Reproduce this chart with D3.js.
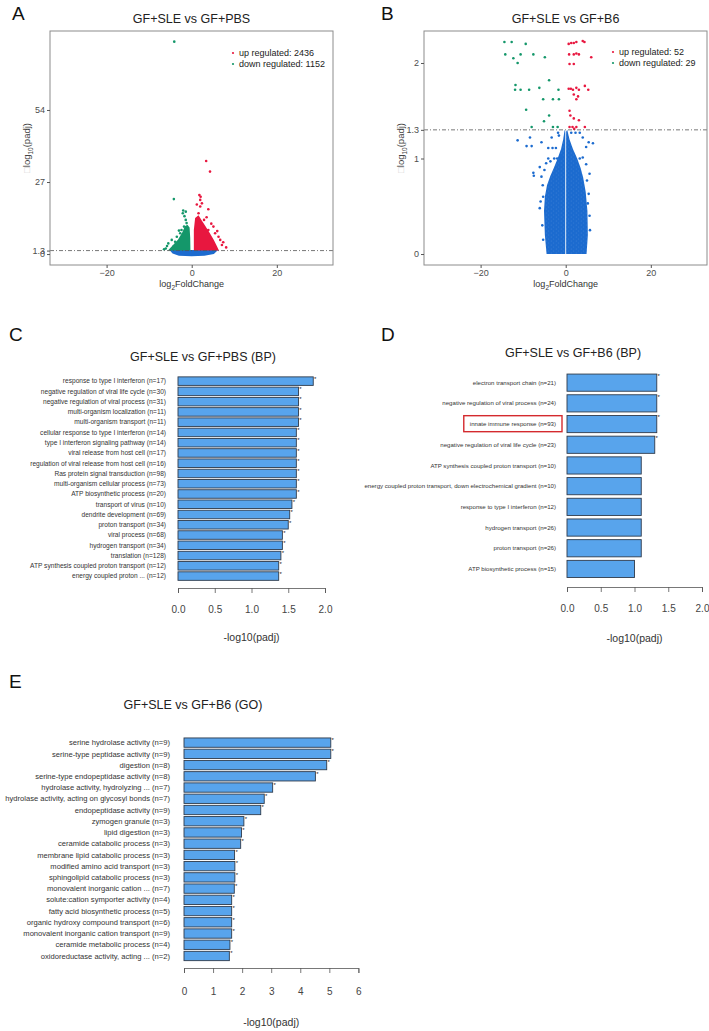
<!DOCTYPE html>
<html>
<head>
<meta charset="utf-8">
<script src="https://cdn.jsdelivr.net/npm/d3@7"></script>
<style>
  body { margin: 0; background: #fff; }
  svg { display: block; font-family: "Liberation Sans", Arial, sans-serif; }
</style>
</head>
<body>
<svg id="fig" width="709" height="1031"></svg>
<script>
/**
 * data
 */

// volcano plots (log2FoldChange, -log10(padj))
var volcanoXTicks = [-20, 0, 20];
var aYTicks = [0, 1.3, 27, 54];
var bYTicks = [0, 1, 1.3, 2];

var aLegend = ["up regulated: 2436", "down regulated: 1152"];
var bLegend = ["up regulated: 52", "down regulated: 29"];

// dense parts of the clouds, as outlines
var aBaseCloud = [[-5.2, 1.5], [-4.5, 0.2], [-3, -0.6], [0, -0.8], [3, -0.6], [5.2, 0], [6.2, 1.5]];
var aDownCloud = [[-5.6, 1.3], [-4.6, 3.0], [-3.2, 5.5], [-2.2, 8.2], [-1.6, 10.4], [-1.0, 11.0], [-0.5, 10.0], [-0.35, 6.0], [-0.3, 1.3]];
var aUpCloud = [[0.5, 1.3], [0.5, 9], [0.8, 13.5], [1.6, 14.5], [2.4, 12.5], [3.2, 10.5], [4.2, 8], [5.2, 5.3], [5.9, 3], [6.4, 1.3]];

var aDownPts = [[-4.1, 79.6], [-4.2, 20.6], [-2.0, 16.3], [-1.4, 15.9], [-2.1, 15.3], [-1.7, 14.2], [-6.1, 2.1],
  [-5.5, 4.0], [-4.7, 5.3], [-3.5, 6.5], [-2.7, 7.8], [-2.4, 9.0], [-1.8, 10.3], [-1.4, 12.8], [-4.3, 2.8],
  [-5.8, 3.0], [-3.9, 4.6], [-3.0, 8.8], [-1.2, 11.6], [-6.5, 1.8]];
var aUpPts = [[3.4, 34.9], [4.3, 30.9], [1.8, 22.1], [2.1, 21.5], [2.0, 20.3], [2.4, 19.0], [2.0, 17.8], [3.9, 16.8],
  [1.6, 15.3], [2.9, 12.8], [5.1, 10.3], [3.9, 9.0], [5.5, 7.8], [6.3, 6.5], [6.7, 5.3], [7.1, 3.4], [8.1, 2.5],
  [4.6, 11.4], [3.5, 13.8], [1.2, 18.6], [6.0, 8.6], [7.4, 4.4]];

var bCloudLeft = [[-0.1, 0], [-4.5, 0], [-4.9, 0.2], [-5.1, 0.45], [-4.9, 0.6], [-4.4, 0.72], [-3.6, 0.82],
  [-2.8, 0.9], [-1.9, 1.0], [-1.1, 1.1], [-0.6, 1.2], [-0.25, 1.3], [-0.1, 1.28]];
var bCloudRight = [[0.1, 0], [0.1, 1.28], [0.35, 1.3], [0.9, 1.2], [1.7, 1.1], [2.7, 1.0], [3.5, 0.9],
  [4.1, 0.8], [4.7, 0.65], [5.1, 0.45], [5.2, 0.2], [4.9, 0]];

var bDownPts = [[-14.4, 2.22], [-12.7, 2.22], [-9.4, 2.20], [-14.2, 2.09], [-10.6, 2.09], [-12.3, 2.05], [-11.3, 2.00],
  [-7.6, 2.09], [-4.9, 2.06], [-11.8, 1.77], [-11.9, 1.72], [-10.6, 1.72], [-8.6, 1.72], [-6.2, 1.74], [-3.9, 1.82],
  [-1.7, 1.72], [-5.3, 1.62], [-3.0, 1.62], [-1.6, 1.62], [-9.3, 1.51], [-3.9, 1.45], [-8.0, 1.33], [-5.1, 1.39],
  [-3.0, 1.33], [-1.9, 1.33]];
var bUpPts = [[0.7, 2.20], [1.3, 2.21], [1.9, 2.21], [2.5, 2.22], [4.0, 2.23], [4.4, 2.22], [0.8, 2.09], [1.9, 2.09],
  [2.5, 2.10], [3.1, 2.09], [0.9, 1.99], [1.9, 1.99], [6.0, 2.06], [0.7, 1.73], [1.2, 1.73], [1.7, 1.72], [2.5, 1.74],
  [3.1, 1.72], [4.5, 1.76], [5.3, 1.72], [1.9, 1.67], [2.9, 1.65], [2.5, 1.62], [0.9, 1.50], [1.1, 1.45], [1.9, 1.42],
  [3.1, 1.40], [0.9, 1.33], [1.6, 1.33], [2.5, 1.33], [4.5, 1.33], [2.0, 1.31]];
var bNsPts = [[-11.3, 1.19], [-8.4, 1.22], [-9.2, 1.13], [-8.0, 1.13], [-5.7, 1.17], [-4.1, 1.11], [-3.1, 1.11],
  [-2.3, 1.11], [-3.3, 1.22], [-1.8, 1.27], [-1.6, 1.24], [-2.7, 1.00], [-4.1, 1.00], [-2.0, 1.00], [-1.0, 1.01],
  [1.3, 1.27], [2.3, 1.27], [3.3, 1.27], [4.0, 1.22], [5.4, 1.17], [6.4, 1.16], [4.8, 1.12], [3.3, 1.00], [4.0, 1.01],
  [4.8, 0.94], [-7.6, 0.85], [-7.5, 0.82], [-6.1, 0.91], [-5.7, 0.81], [-5.4, 0.72], [-5.9, 0.55], [-6.1, 0.48],
  [-5.3, 0.60], [5.6, 0.84], [5.0, 0.77], [5.4, 0.63], [5.2, 0.53], [-5.0, 0.88], [-4.6, 0.95], [-3.6, 0.97],
  [5.6, 0.40], [-5.5, 0.30], [5.7, 0.25], [-5.3, 0.15]];

// enrichment bar charts (-log10(padj))
var cTerms = ["response to type I interferon", "negative regulation of viral life cycle", "negative regulation of viral process",
  "multi-organism localization", "multi-organism transport", "cellular response to type I interferon",
  "type I interferon signaling pathway", "viral release from host cell", "regulation of viral release from host cell",
  "Ras protein signal transduction", "multi-organism cellular process", "ATP biosynthetic process", "transport of virus",
  "dendrite development", "proton transport", "viral process", "hydrogen transport", "translation",
  "ATP synthesis coupled proton transport", "energy coupled proton ..."];
var cCounts = [17, 30, 31, 11, 11, 14, 14, 17, 16, 98, 73, 20, 10, 69, 34, 68, 34, 128, 12, 12];
var cValues = [1.84, 1.64, 1.64, 1.64, 1.64, 1.61, 1.61, 1.61, 1.61, 1.61, 1.61, 1.61, 1.55, 1.52, 1.50, 1.42, 1.42, 1.40, 1.37, 1.37];
var cStars = [1, 1, 1, 1, 1, 1, 1, 1, 1, 1, 1, 1, 1, 1, 1, 1, 1, 1, 1, 1];
var cTicks = [0, 0.5, 1, 1.5, 2];

var dTerms = ["electron transport chain", "negative regulation of viral process", "innate immune response",
  "negative regulation of viral life cycle", "ATP synthesis coupled proton transport",
  "energy coupled proton transport, down electrochemical gradient", "response to type I interferon",
  "hydrogen transport", "proton transport", "ATP biosynthetic process"];
var dCounts = [21, 24, 93, 23, 10, 10, 12, 26, 26, 15];
var dValues = [1.33, 1.33, 1.33, 1.30, 1.10, 1.10, 1.10, 1.10, 1.10, 1.00];
var dStars = [1, 1, 1, 1, 0, 0, 0, 0, 0, 0];
var dTicks = [0, 0.5, 1, 1.5, 2];
var dHighlight = "innate immune response";

var eTerms = ["serine hydrolase activity", "serine-type peptidase activity", "digestion", "serine-type endopeptidase activity",
  "hydrolase activity, hydrolyzing ...", "hydrolase activity, acting on glycosyl bonds", "endopeptidase activity",
  "zymogen granule", "lipid digestion", "ceramide catabolic process", "membrane lipid catabolic process",
  "modified amino acid transport", "sphingolipid catabolic process", "monovalent inorganic cation ...",
  "solute:cation symporter activity", "fatty acid biosynthetic process", "organic hydroxy compound transport",
  "monovalent inorganic cation transport", "ceramide metabolic process", "oxidoreductase activity, acting ..."];
var eCounts = [9, 9, 8, 8, 7, 7, 9, 3, 3, 3, 3, 3, 3, 7, 4, 5, 6, 9, 4, 2];
var eValues = [5.05, 5.05, 4.91, 4.52, 3.05, 2.76, 2.64, 2.06, 1.98, 1.95, 1.74, 1.75, 1.75, 1.73, 1.64, 1.64, 1.64, 1.64, 1.58, 1.56];
var eStars = [1, 1, 1, 1, 1, 1, 1, 1, 1, 1, 1, 1, 1, 1, 1, 1, 1, 1, 1, 1];
var eTicks = [0, 1, 2, 3, 4, 5, 6];

/**
 * colours
 */
var RED = "#e8173f", GREEN = "#14976a", BLUE = "#1c6bcf";
var BAR_FILL = "#58a4ec", BAR_STROKE = "#2f3b4c";

var svg = d3.select("#fig");

// lightly speckled fill for the dense blue cloud
var speck = svg.append("defs").append("pattern")
    .attr("id", "speck").attr("width", 5).attr("height", 4)
    .attr("patternUnits", "userSpaceOnUse");
speck.append("rect").attr("width", 5).attr("height", 4).attr("fill", BLUE);
speck.append("circle").attr("cx", 1.2).attr("cy", 1).attr("r", 0.4).attr("fill", "#fff").attr("opacity", 0.25);
speck.append("circle").attr("cx", 3.7).attr("cy", 3).attr("r", 0.4).attr("fill", "#fff").attr("opacity", 0.2);

/**
 * panel letters
 */
[["A", 12, 20], ["B", 381, 20], ["C", 9, 341], ["D", 381, 341], ["E", 9, 688]].forEach(function(l) {
    svg.append("text").attr("x", l[1]).attr("y", l[2])
        .attr("font-size", 19).attr("fill", "#111").text(l[0]);
});

/**
 * volcano plot
 */
function volcano(o) {
    var g = svg.append("g");
    var x = d3.scaleLinear().domain([-33.3, 33.2]).range([o.left, o.right]);
    var y = d3.scaleLinear().domain(o.yDomain).range([o.bottom, o.top]);

    g.append("clipPath").attr("id", "clip" + o.id)
        .append("rect")
        .attr("x", o.left).attr("y", o.top)
        .attr("width", o.right - o.left).attr("height", o.bottom - o.top);

    var plot = g.append("g").attr("clip-path", "url(#clip" + o.id + ")");
    var line = d3.line().x(d => x(d[0])).y(d => y(d[1]));

    o.clouds.forEach(function(c) {
        plot.append("path").attr("d", line(c.pts) + "Z").attr("fill", c.color);
    });
    o.points.forEach(function(s) {
        plot.append("g").selectAll("circle")
            .data(s.pts)
            .join("circle")
            .attr("cx", d => x(d[0]))
            .attr("cy", d => y(d[1]))
            .attr("r", 1.3)
            .attr("fill", s.color);
    });

    // significance threshold
    plot.append("line")
        .attr("x1", o.left).attr("x2", o.right)
        .attr("y1", y(1.3)).attr("y2", y(1.3))
        .attr("stroke", "#555").attr("stroke-width", 0.8)
        .attr("stroke-dasharray", "4,2,1,2");

    g.append("rect")
        .attr("x", o.left).attr("y", o.top)
        .attr("width", o.right - o.left).attr("height", o.bottom - o.top)
        .attr("fill", "none").attr("stroke", "#8c8c8c").attr("stroke-width", 1);

    var xa = g.append("g")
        .attr("transform", "translate(0," + o.bottom + ")")
        .call(d3.axisBottom(x).tickValues(volcanoXTicks).tickSize(3).tickSizeOuter(0).tickPadding(2));
    xa.select(".domain").remove();
    xa.selectAll("line").attr("stroke", "#555");
    xa.selectAll("text").attr("font-size", 9).attr("fill", "#4d4d4d").attr("font-family", null);

    var ya = g.append("g")
        .attr("transform", "translate(" + o.left + ",0)")
        .call(d3.axisLeft(y).tickValues(o.yTicks).tickFormat(d3.format("")).tickSize(3).tickSizeOuter(0).tickPadding(2));
    ya.select(".domain").remove();
    ya.selectAll("line").attr("stroke", "#555");
    ya.selectAll("text").attr("font-size", 9).attr("fill", "#4d4d4d").attr("font-family", null);

    // titles
    g.append("text")
        .attr("x", (o.left + o.right) / 2).attr("y", o.top - 8)
        .attr("text-anchor", "middle").attr("font-size", 12.5).attr("fill", "#222")
        .text(o.title);

    var xl = g.append("text")
        .attr("x", x(0)).attr("y", o.bottom + 22)
        .attr("text-anchor", "middle").attr("font-size", 9).attr("fill", "#333");
    xl.append("tspan").text("log");
    xl.append("tspan").attr("font-size", 6.5).attr("dy", 2.5).text("2");
    xl.append("tspan").attr("dy", -2.5).text("FoldChange");

    var yl = g.append("text")
        .attr("transform", "translate(" + (o.left - 20) + "," + ((o.top + o.bottom) / 2) + ") rotate(-90)")
        .attr("text-anchor", "middle").attr("font-size", 9.5).attr("fill", "#444");
    yl.append("tspan").attr("fill", "#cfcfcf").text("\u25A1");
    yl.append("tspan").text("log");
    yl.append("tspan").attr("font-size", 6.5).attr("dy", 2.5).text("10");
    yl.append("tspan").attr("dy", -2.5).text("(padj)");

    // legend
    var lg = g.append("g");
    o.legend.forEach(function(t, i) {
        lg.append("circle").attr("cx", o.legendX).attr("cy", o.legendY + i * 11)
            .attr("r", 1.1).attr("fill", i === 0 ? RED : GREEN);
        lg.append("text").attr("x", o.legendX + 6).attr("y", o.legendY + i * 11 + 3.3)
            .attr("font-size", 9).attr("fill", "#222").text(t);
    });
}

volcano({
    id: "A", left: 50, right: 333, top: 31, bottom: 265,
    yDomain: [-4.1, 83.6], yTicks: aYTicks,
    title: "GF+SLE vs GF+PBS", legend: aLegend, legendX: 233, legendY: 53,
    clouds: [
        { pts: aBaseCloud, color: BLUE },
        { pts: aDownCloud, color: GREEN },
        { pts: aUpCloud, color: RED }
    ],
    points: [
        { pts: aDownPts, color: GREEN },
        { pts: aUpPts, color: RED }
    ]
});

volcano({
    id: "B", left: 424, right: 707, top: 31, bottom: 265,
    yDomain: [-0.115, 2.335], yTicks: bYTicks,
    title: "GF+SLE vs GF+B6", legend: bLegend, legendX: 613, legendY: 52,
    clouds: [
        { pts: bCloudLeft, color: "url(#speck)" },
        { pts: bCloudRight, color: "url(#speck)" }
    ],
    points: [
        { pts: bNsPts, color: BLUE },
        { pts: bDownPts, color: GREEN },
        { pts: bUpPts, color: RED }
    ]
});

/**
 * enrichment bar chart
 */
function barPanel(o) {
    var g = svg.append("g");
    var n = o.terms.length;
    var x = d3.scaleLinear().domain([o.ticks[0], o.ticks[o.ticks.length - 1]]).range([o.left, o.right]);
    var y = d3.scaleBand()
        .domain(d3.range(n))
        .range([o.barTop, o.barTop + o.step * n])
        .paddingInner(0.17)
        .paddingOuter(0.085);

    g.append("g").selectAll("rect")
        .data(o.values)
        .join("rect")
        .attr("x", x(0))
        .attr("y", (d, i) => y(i))
        .attr("width", d => x(d) - x(0))
        .attr("height", y.bandwidth())
        .attr("fill", BAR_FILL)
        .attr("stroke", BAR_STROKE)
        .attr("stroke-width", 0.9);

    var labels = g.append("g").selectAll("text")
        .data(o.terms)
        .join("text")
        .attr("x", o.labelX)
        .attr("y", (d, i) => y(i) + y.bandwidth() / 2)
        .attr("dy", "0.35em")
        .attr("text-anchor", "end")
        .attr("font-size", o.labelSize)
        .attr("fill", "#333")
        .text((d, i) => d + " (n=" + o.counts[i] + ")");

    g.append("g").selectAll("text")
        .data(o.values)
        .join("text")
        .filter((d, i) => o.stars[i])
        .attr("x", d => x(d) + 0.8)
        .attr("y", (d, i) => y(i) + 4)
        .attr("font-size", 6)
        .attr("fill", "#222")
        .text("*");

    // red frame round a highlighted term
    if (o.highlight) {
        labels.filter(d => d === o.highlight).each(function() {
            var bb = this.getBBox();
            g.append("rect")
                .attr("x", bb.x - 6).attr("y", bb.y - 4.5)
                .attr("width", bb.width + 12).attr("height", bb.height + 9)
                .attr("fill", "none").attr("stroke", "#d42a2e").attr("stroke-width", 1.4);
        });
    }

    var ax = g.append("g")
        .attr("transform", "translate(0," + o.axisY + ")")
        .call(d3.axisBottom(x).tickValues(o.ticks).tickFormat(d3.format(o.fmt))
            .tickSize(5).tickSizeOuter(5).tickPadding(o.tickPad));
    ax.selectAll("path,line").attr("stroke", "#555").attr("stroke-width", 0.8);
    ax.selectAll("text").attr("font-size", 10).attr("fill", "#444").attr("font-family", null);

    g.append("text")
        .attr("x", (o.left + o.right) / 2).attr("y", o.axisY + o.labelOff)
        .attr("text-anchor", "middle").attr("font-size", 10.5).attr("fill", "#333")
        .text("-log10(padj)");

    g.append("text")
        .attr("x", o.titleX).attr("y", o.titleY)
        .attr("text-anchor", "middle").attr("font-size", 12.5).attr("fill", "#222")
        .text(o.title);
}

barPanel({
    terms: cTerms, counts: cCounts, values: cValues, stars: cStars, ticks: cTicks, fmt: ".1f",
    left: 178, right: 325, barTop: 376, step: 10.26, labelX: 166, labelSize: 6.6,
    axisY: 588, tickPad: 13, labelOff: 53, title: "GF+SLE vs GF+PBS (BP)", titleX: 203, titleY: 361
});

barPanel({
    terms: dTerms, counts: dCounts, values: dValues, stars: dStars, ticks: dTicks, fmt: ".1f",
    left: 567, right: 702, barTop: 372.3, step: 20.7, labelX: 556, labelSize: 6.1,
    axisY: 587, tickPad: 13, labelOff: 55, title: "GF+SLE vs GF+B6 (BP)", titleX: 573, titleY: 357, highlight: dHighlight
});

barPanel({
    terms: eTerms, counts: eCounts, values: eValues, stars: eStars, ticks: eTicks, fmt: "d",
    left: 184, right: 358.4, barTop: 737, step: 11.23, labelX: 170, labelSize: 7.6,
    axisY: 968, tickPad: 15, labelOff: 58, title: "GF+SLE vs GF+B6 (GO)", titleX: 193, titleY: 709
});
</script>
</body>
</html>
